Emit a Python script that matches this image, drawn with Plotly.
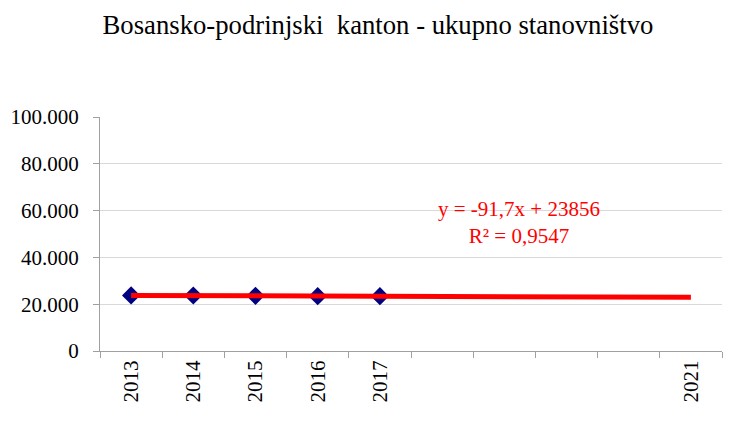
import numpy as np
import plotly.graph_objects as go

years = ['2013', '2014', '2015', '2016', '2017', '', '', '', '', '2021']
population = [23738, 23708, 23599, 23449, 23411]
y_ticks = [0, 20000, 40000, 60000, 80000, 100000]
y_tick_labels = ['0', '20.000', '40.000', '60.000', '80.000', '100.000']
trend_label = 'y = -91,7x + 23856<br>R² = 0,9547'

idx = list(range(1, len(years) + 1))
xs = idx[:len(population)]
slope, intercept = np.polyfit(xs, population, 1)
trend = [slope * i + intercept for i in idx]

font = 'Liberation Serif, Times New Roman, serif'
fig = go.Figure()
fig.add_trace(go.Scatter(x=xs, y=population, mode='markers',
                         marker=dict(symbol='diamond', size=14, color='#000080',
                                     line=dict(width=0)),
                         showlegend=False))
fig.add_trace(go.Scatter(x=idx, y=trend, mode='lines',
                         line=dict(color='#ff0000', width=5),
                         showlegend=False))
fig.add_annotation(x=7.24, y=55000, xref='x', yref='y', text=trend_label,
                   showarrow=False, font=dict(family=font, size=21, color='#ff0000'),
                   align='center')
fig.update_layout(
    width=725, height=413,
    margin=dict(l=92, r=11, t=109, b=70),
    paper_bgcolor='white', plot_bgcolor='white',
    title=dict(text='Bosansko-podrinjski  kanton - ukupno stanovništvo',
               x=0.5103, xanchor='center', y=1 - 17 / 413, yanchor='middle',
               font=dict(family=font, size=26.7, color='black')),
    xaxis=dict(range=[0.5, len(years) + 0.5], tickvals=idx, ticktext=years,
               tickangle=-90, ticks='', showgrid=False, zeroline=False,
               showline=True, linecolor='#a0a0a0', linewidth=1,
               automargin=False,
               tickfont=dict(family=font, size=21, color='black'),
               minor=dict(tickvals=[i + 0.5 for i in range(len(years) + 1)],
                          ticks='outside', ticklen=6, tickcolor='#a0a0a0',
                          showgrid=False)),
    yaxis=dict(range=[0, 100000], tickvals=y_ticks, ticktext=y_tick_labels,
               ticks='outside', ticklen=6, tickcolor='#a0a0a0',
               showgrid=True, gridcolor='#d9d9d9', zeroline=False,
               showline=True, linecolor='#a0a0a0', linewidth=1,
               ticklabelstandoff=10, automargin=False,
               tickfont=dict(family=font, size=21, color='black')),
)
fig.write_html('out.html')
